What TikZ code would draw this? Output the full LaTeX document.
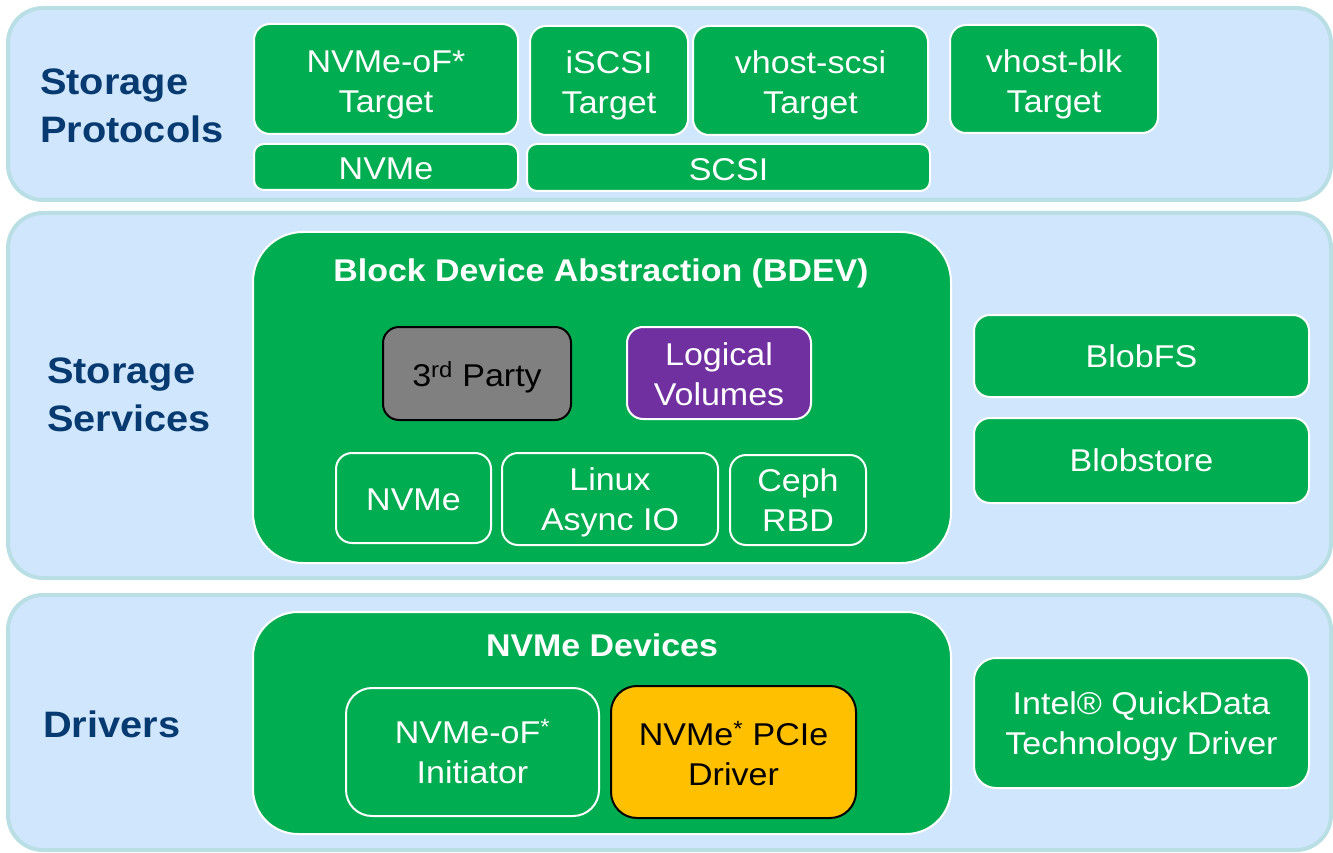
\documentclass[tikz,border=0pt]{standalone}
\usepackage{fontspec}
\setmainfont{Liberation Sans}[FakeStretch=1.08]
\definecolor{layerfill}{RGB}{208,230,252}
\definecolor{layerline}{RGB}{185,223,228}
\definecolor{sgreen}{RGB}{0,173,80}
\definecolor{lblblue}{RGB}{6,58,112}
\definecolor{lvpurple}{RGB}{112,48,160}
\definecolor{tpgray}{RGB}{128,128,128}
\definecolor{pcieyellow}{RGB}{255,192,0}
\newcommand\bxfont{\fontsize{31.5}{40}\selectfont}
\newcommand\lbfont{\fontsize{36.8}{48}\selectfont\bfseries}
\newcommand\ttlfont{\fontsize{31.4}{38}\selectfont\bfseries}
\newcommand\dn[1]{\rule{0pt}{#1pt}}
\begin{document}
\begin{tikzpicture}[x=1pt,y=-1pt,
  layer/.style={draw=layerline, line width=4pt, fill=layerfill, rounded corners=35pt, inner sep=0pt},
  gbox/.style={draw=white, line width=2pt, fill=sgreen, rounded corners=16pt, text=white, font=\bxfont, align=center, inner sep=0pt},
  bigbox/.style={draw=white, line width=2pt, fill=sgreen, rounded corners=50pt, inner sep=0pt},
  darkbox/.style={gbox, draw=black, text=black},
  lbl/.style={font=\lbfont, text=lblblue, align=left, anchor=west, inner sep=0pt},
  ttl/.style={font=\ttlfont, text=white, inner sep=0pt}]
\useasboundingbox (0,0) rectangle (1333,853);
% layers
\node[layer, minimum width=1323pt, minimum height=192pt] (L1) at (669.5,104) {};
\node[layer, minimum width=1323pt, minimum height=365pt] (L2) at (669.5,395.5) {};
\node[layer, minimum width=1323pt, minimum height=255pt] (L3) at (669.5,722.5) {};
% labels
\node[lbl] (lab1) at (40,105.5) {Storage\\Protocols};
\node[lbl] (lab2) at (47,395) {Storage\\Services};
\node[lbl] (lab3) at (43,724) {Drivers};
% storage protocols
\node[gbox, minimum width=264pt, minimum height=110pt] (nvmeoft) at (386,79) {\dn{33}NVMe-oF*\\Target};
\node[gbox, rounded corners=10pt, minimum width=264pt, minimum height=46pt] (nvmep) at (386,167) {\dn{26}NVMe};
\node[gbox, minimum width=158pt, minimum height=109pt] (iscsi) at (609,80.5) {\dn{32}iSCSI\\Target};
\node[gbox, minimum width=235pt, minimum height=109pt] (vscsi) at (810.5,80.5) {\dn{32}vhost-scsi\\Target};
\node[gbox, rounded corners=10pt, minimum width=403pt, minimum height=47pt] (scsi) at (728.5,167.5) {\dn{26}SCSI};
\node[gbox, minimum width=208pt, minimum height=108pt] (vblk) at (1054,79) {\dn{33}vhost-blk\\Target};
% storage services
\node[bigbox, minimum width=698pt, minimum height=331pt] (bdev) at (602,397.5) {};
\node[ttl] (bdevt) at (601,270) {\dn{30}Block Device Abstraction (BDEV)};
\node[darkbox, fill=tpgray, minimum width=188pt, minimum height=93pt] (third) at (477,373.5) {\dn{33}3\textsuperscript{rd} Party};
\node[gbox, fill=lvpurple, minimum width=184pt, minimum height=92pt] (lvol) at (719,373) {\dn{26}Logical\\Volumes};
\node[gbox, minimum width=155pt, minimum height=90pt] (nvmeb) at (413.5,498) {\dn{25}NVMe};
\node[gbox, minimum width=216pt, minimum height=92pt] (laio) at (610,499) {\dn{30}Linux\\Async IO};
\node[gbox, minimum width=136pt, minimum height=90pt] (ceph) at (798,500) {Ceph\\RBD};
\node[gbox, minimum width=335pt, minimum height=82pt] (blobfs) at (1141.5,356) {BlobFS};
\node[gbox, minimum width=335pt, minimum height=85pt] (blobstore) at (1141.5,460.5) {Blobstore};
% drivers
\node[bigbox, rounded corners=45pt, minimum width=698pt, minimum height=222pt] (nvmedev) at (602,723) {};
\node[ttl] (nvmedevt) at (602,645) {NVMe Devices};
\node[gbox, rounded corners=26pt, minimum width=253pt, minimum height=128pt] (init) at (472.5,752) {NVMe-oF\textsuperscript{*}\\Initiator};
\node[darkbox, fill=pcieyellow, rounded corners=26pt, minimum width=245pt, minimum height=132pt] (pcie) at (733.5,752) {\dn{28}NVMe\textsuperscript{*} PCIe\\Driver};
\node[gbox, rounded corners=22pt, minimum width=335pt, minimum height=130pt] (qd) at (1141.5,723) {\dn{30}Intel® QuickData\\Technology Driver};
\end{tikzpicture}
\end{document}
